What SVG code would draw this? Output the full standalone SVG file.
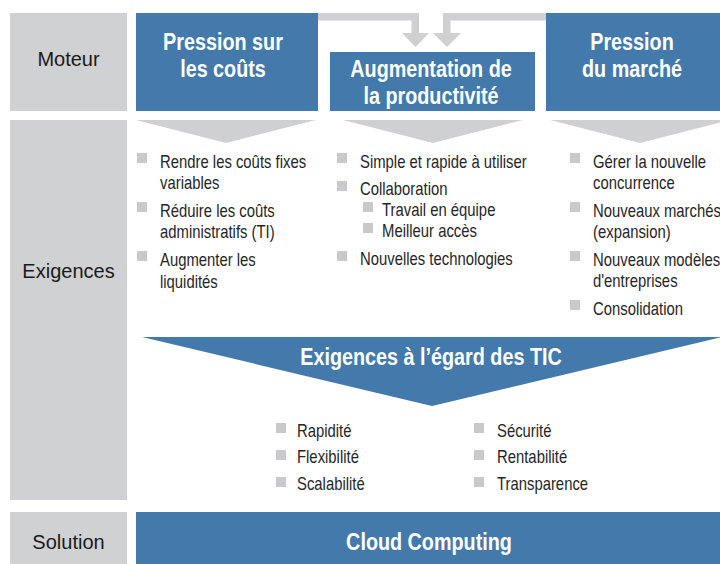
<svg xmlns="http://www.w3.org/2000/svg" width="720" height="564" viewBox="0 0 720 564">
<style>
.lbl{fill:#d0d1d3}
.blue{fill:#437aab}
.chev{fill:#cfd0d2}
.bul{fill:#c9c9cb}
.lt{font-family:"Liberation Sans",Arial,sans-serif;font-size:20px;fill:#1a1a1a;text-anchor:middle}
.ht{font-family:"Liberation Sans",Arial,sans-serif;font-weight:bold;font-size:23px;fill:#ffffff;text-anchor:middle}
.bt{font-family:"Liberation Sans",Arial,sans-serif;font-size:18px;fill:#262626}
</style>
<rect width="720" height="564" fill="#ffffff"/>
<g id="label-moteur"><rect class="lbl" x="10" y="13" width="117" height="98"/><text class="lt" x="68.5" y="66">Moteur</text></g>
<g id="label-exigences"><rect class="lbl" x="10" y="120" width="117" height="380"/><text class="lt" x="68.5" y="278">Exigences</text></g>
<g id="label-solution"><rect class="lbl" x="10" y="512" width="117" height="52"/><text class="lt" x="68.5" y="549">Solution</text></g>
<g id="connectors">
<polygon class="chev" points="318,13 419,13 419,33 429,33 415.5,47 402,33 411.5,33 411.5,20.5 318,20.5"/>
<polygon class="chev" points="546,13 443,13 443,33 433,33 447,47 461,33 450.5,33 450.5,20.5 546,20.5"/>
<polygon class="chev" points="136,120 316,120 226,143"/>
<polygon class="chev" points="343,120 523,120 433,143"/>
<polygon class="chev" points="550,120 730,120 640,143"/>
</g>
<g id="node-couts"><rect class="blue" x="136" y="13" width="182" height="98"/><g transform="translate(223 0) scale(0.86 1)"><text class="ht" x="0" y="50">Pression sur</text><text class="ht" x="0" y="77">les coûts</text></g></g>
<g id="node-productivite"><rect class="blue" x="330" y="52" width="205" height="59"/><g transform="translate(431 0) scale(0.86 1)"><text class="ht" x="0" y="77">Augmentation de</text><text class="ht" x="0" y="104">la productivité</text></g></g>
<g id="node-marche"><rect class="blue" x="546" y="13" width="180" height="98"/><g transform="translate(632 0) scale(0.86 1)"><text class="ht" x="0" y="50">Pression</text><text class="ht" x="0" y="77">du marché</text></g></g>
<g id="list-couts">
<rect class="bul" x="137" y="153" width="10" height="10"/>
<rect class="bul" x="137" y="202" width="10" height="10"/>
<rect class="bul" x="137" y="251" width="10" height="10"/>
<g transform="translate(160 0) scale(0.825 1)">
<text class="bt" x="0" y="168">Rendre les coûts fixes</text><text class="bt" x="0" y="189">variables</text>
<text class="bt" x="0" y="217">Réduire les coûts</text><text class="bt" x="0" y="238">administratifs (TI)</text>
<text class="bt" x="0" y="266">Augmenter les</text><text class="bt" x="0" y="288">liquidités</text>
</g>
</g>
<g id="list-productivite">
<rect class="bul" x="337" y="153" width="10" height="10"/>
<rect class="bul" x="337" y="181" width="10" height="10"/>
<rect class="bul" x="363" y="202" width="10" height="10"/>
<rect class="bul" x="363" y="223" width="10" height="10"/>
<rect class="bul" x="337" y="251" width="10" height="10"/>
<g transform="translate(360 0) scale(0.825 1)">
<text class="bt" x="0" y="168">Simple et rapide à utiliser</text>
<text class="bt" x="0" y="195">Collaboration</text>
<text class="bt" x="26.7" y="216">Travail en équipe</text>
<text class="bt" x="26.7" y="237">Meilleur accès</text>
<text class="bt" x="0" y="265">Nouvelles technologies</text>
</g>
</g>
<g id="list-marche">
<rect class="bul" x="570" y="153" width="10" height="10"/>
<rect class="bul" x="570" y="202" width="10" height="10"/>
<rect class="bul" x="570" y="251" width="10" height="10"/>
<rect class="bul" x="570" y="300" width="10" height="10"/>
<g transform="translate(593 0) scale(0.825 1)">
<text class="bt" x="0" y="168">Gérer la nouvelle</text><text class="bt" x="0" y="189">concurrence</text>
<text class="bt" x="0" y="217">Nouveaux marchés</text><text class="bt" x="0" y="238">(expansion)</text>
<text class="bt" x="0" y="266">Nouveaux modèles</text><text class="bt" x="0" y="287">d'entreprises</text>
<text class="bt" x="0" y="315">Consolidation</text>
</g>
</g>
<g id="node-tic"><polygon class="blue" points="142,337 722,337 432,406"/><g transform="translate(431 0) scale(0.86 1)"><text class="ht" x="0" y="365">Exigences à l’égard des TIC</text></g></g>
<g id="list-tic">
<rect class="bul" x="276" y="423" width="10" height="10"/>
<rect class="bul" x="276" y="450" width="10" height="10"/>
<rect class="bul" x="276" y="477" width="10" height="10"/>
<rect class="bul" x="474" y="423" width="10" height="10"/>
<rect class="bul" x="474" y="450" width="10" height="10"/>
<rect class="bul" x="474" y="477" width="10" height="10"/>
<g transform="translate(297 0) scale(0.825 1)">
<text class="bt" x="0" y="437">Rapidité</text>
<text class="bt" x="0" y="463">Flexibilité</text>
<text class="bt" x="0" y="490">Scalabilité</text>
</g>
<g transform="translate(497 0) scale(0.825 1)">
<text class="bt" x="0" y="437">Sécurité</text>
<text class="bt" x="0" y="463">Rentabilité</text>
<text class="bt" x="0" y="490">Transparence</text>
</g>
</g>
<g id="node-cloud"><rect class="blue" x="136" y="512" width="590" height="52"/><g transform="translate(429 0) scale(0.86 1)"><text class="ht" x="0" y="550">Cloud Computing</text></g></g>
</svg>
